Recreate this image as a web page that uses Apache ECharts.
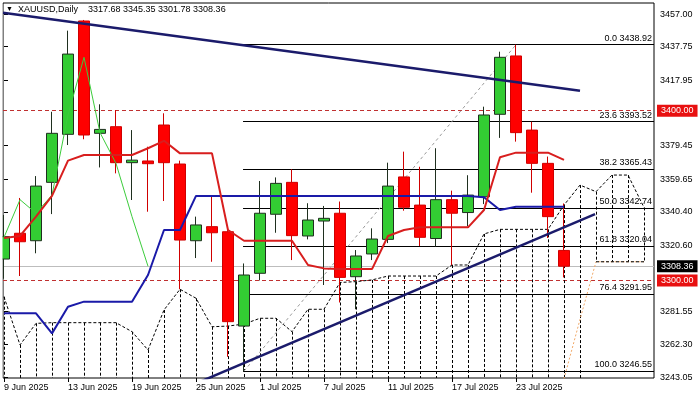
<!DOCTYPE html>
<html><head><meta charset="utf-8">
<script src="https://cdn.jsdelivr.net/npm/echarts@6/dist/echarts.min.js"></script>
<style>html,body{margin:0;padding:0;background:#fff}#c{width:700px;height:400px}</style>
</head><body><div id="c"></div>
<script>
// ---- data ----
const dates = ['2025-06-09','2025-06-10','2025-06-11','2025-06-12','2025-06-13','2025-06-16','2025-06-17','2025-06-18','2025-06-19','2025-06-20',
  '2025-06-23','2025-06-24','2025-06-25','2025-06-26','2025-06-27','2025-06-30','2025-07-01','2025-07-02','2025-07-03','2025-07-04',
  '2025-07-07','2025-07-08','2025-07-09','2025-07-10','2025-07-11','2025-07-14','2025-07-15','2025-07-16','2025-07-17','2025-07-18',
  '2025-07-21','2025-07-22','2025-07-23','2025-07-24','2025-07-25','2025-07-28'];
const opens  = [3312.6,3327.8,3323.4,3357.8,3386.1,3452.9,3386.7,3390.6,3369.4,3370.4,3391.6,3368.6,3323.4,3331.7,3328.7,3273.1,3304.2,3339.0,3357.8,3326.2,3335.0,3339.6,3302.2,3315.6,3324.2,3361.0,3344.4,3324.7,3347.6,3340.0,3349.3,3397.9,3432.3,3388.6,3369.0,3317.68];
const highs  = [3338.6,3348.6,3361.5,3399.4,3447.2,3453.5,3403.8,3400.4,3388.6,3378.8,3398.5,3370.6,3337.6,3350.3,3330.5,3310.0,3358.6,3360.7,3365.5,3345.5,3343.9,3346.5,3317.9,3330.7,3369.4,3375.9,3367.0,3377.9,3352.9,3362.0,3402.4,3434.8,3438.92,3393.5,3373.0,3345.35];
const lows   = [3301.0,3302.6,3316.0,3339.1,3379.8,3383.2,3366.6,3363.1,3347.4,3340.5,3346.8,3294.8,3313.2,3311.0,3255.0,3246.55,3300.0,3328.1,3312.0,3324.2,3297.3,3287.0,3283.0,3312.0,3322.0,3341.1,3320.3,3319.9,3309.0,3332.0,3345.0,3384.0,3381.8,3351.7,3325.0,3301.78];
const closes = [3325.8,3322.8,3355.6,3386.7,3433.4,3385.7,3389.0,3369.4,3370.9,3368.8,3369.4,3323.8,3332.7,3328.1,3275.7,3303.2,3339.6,3357.2,3326.4,3335.6,3336.6,3301.8,3314.4,3324.4,3355.6,3343.1,3325.4,3347.6,3339.6,3350.3,3397.5,3431.5,3387.1,3369.0,3337.6,3308.36];
const tenkan = [3325.0,3326.2,3337.6,3349.8,3370.6,3373.9,3373.9,3373.9,3373.9,3377.9,3382.3,3374.9,3374.9,3374.9,3329.7,3323.4,3323.4,3323.4,3323.4,3309.1,3307.1,3306.7,3306.7,3306.7,3326.2,3329.7,3331.3,3331.3,3331.3,3331.3,3341.5,3372.6,3375.3,3375.3,3375.3,3371.0];
const kijun  = [3280.6,3280.6,3280.6,3268.8,3284.5,3287.5,3287.5,3287.5,3287.5,3303.2,3329.7,3329.7,3349.8,3349.8,3349.8,3349.8,3349.8,3349.8,3349.8,3349.8,3349.8,3349.8,3349.8,3349.8,3349.8,3349.8,3349.8,3349.8,3349.8,3349.8,3349.0,3341.5,3343.4,3343.4,3343.4,3343.4];
const spanA  = [3290.4,3262.0,3274.7,3275.1,3275.1,3275.1,3275.1,3275.1,3269.8,3259.0,3282.6,3294.8,3289.5,3272.7,3273.1,3274.3,3277.7,3277.7,3269.8,3283.0,3283.0,3298.8,3299.3,3300.3,3302.6,3302.6,3302.6,3302.6,3309.1,3309.1,3327.4,3330.1,3330.1,3330.1,3330.1,3344.4,3356.2,3352.3,3362.1,3362.1,3343.0];
const spanB  = {35:3242.0, 36:3277.0, 37:3311.0, 38:3311.0, 39:3311.0, 40:3311.0};
const cloudFloor = {37:3311.0, 38:3311.0, 39:3311.0, 40:3311.0};
const chikouShift = 26;
const fibLevels = [0,23.6,38.2,50,61.8,76.4,100];
const fibPrices = [3438.92,3393.52,3365.43,3342.74,3320.04,3291.95,3246.55];
const fibAnchors = [[15,3246.55],[32,3438.92]];
const resistTrend = [[-0.06,3457.8],[36,3411.8]];
const supportTrend = [[10,3231.3],[36.94,3339.1]];
const redLevels = [3400,3300];
const lastPrice = 3308.36;
const priceTicks = [3243.05,3262.30,3281.55,3320.60,3340.40,3359.65,3379.45,3417.95,3437.75,3457.00];
const dateTickIdx = [0,4,8,12,16,20,24,28,32];

// ---- chart ----
const FONT = 'Liberation Sans, Arial, sans-serif';
const yMin = 3242.5, yMax = 3463.5, xMin = -0.0625, xMax = 40.625;
const MON = ['Jan','Feb','Mar','Apr','May','Jun','Jul','Aug','Sep','Oct','Nov','Dec'];
const fmtDate = v => { const d = dates[Math.round(v)]; if (!d) return ''; const p = d.split('-'); return (+p[2]) + ' ' + MON[+p[1]-1] + ' ' + p[0]; };
const pts = arr => arr.map((v,i)=>[i,v]);
const objPts = o => Object.keys(o).map(k=>[+k,o[k]]);
const last = opens.length - 1;

const chart = echarts.init(document.getElementById('c'));
const hatchData = spanA.map((v,i)=>[i, v, cloudFloor[i] != null ? cloudFloor[i] : yMin]);

const badge = (val, txt, bg, line) => ({
  yAxis: val,
  lineStyle: line,
  label: {show:true, position:'end', formatter: txt, color:'#fff', backgroundColor:bg, padding:[2,4,1,4], fontSize:9, fontFamily:FONT, distance:3}
});

chart.setOption({
  animation: false,
  grid: {left:3, right:46, top:3, bottom:22, show:true, borderColor:'#000', borderWidth:1, backgroundColor:'#fff'},
  xAxis: {
    type:'value', min:xMin, max:xMax,
    axisLine:{show:false}, splitLine:{show:false},
    axisTick:{show:true, customValues:dateTickIdx, length:4, lineStyle:{color:'#000'}},
    axisLabel:{customValues:dateTickIdx, formatter:fmtDate, align:'left', margin:5, fontSize:9, color:'#000', fontFamily:FONT}
  },
  yAxis: {
    type:'value', position:'right', min:yMin, max:yMax, scale:true,
    axisLine:{show:false}, splitLine:{show:false},
    axisTick:{show:true, customValues:priceTicks, length:4, lineStyle:{color:'#000'}},
    axisLabel:{customValues:priceTicks, formatter:v=>v.toFixed(2), margin:6, fontSize:9, color:'#000', fontFamily:FONT}
  },
  graphic: [
    {type:'rect', left:0, top:0, z:100, shape:{width:2.5, height:378}, style:{fill:'#fff'}},
    {type:'text', left:6, top:6, style:{text:'\u25BC', fontSize:7, fill:'#000', fontFamily:FONT}},
    {type:'text', left:18, top:5, style:{text:'XAUUSD,Daily', fontSize:9, fill:'#000', fontFamily:FONT}},
    {type:'text', left:88, top:5, style:{text:[opens[last],highs[last],lows[last],closes[last]].map(v=>v.toFixed(2)).join(' '), fontSize:9, fill:'#000', fontFamily:FONT}}
  ],
  series: [
    { type:'custom', z:1, silent:true, data:hatchData,
      renderItem:(params, api)=>{
        const a = api.coord([api.value(0), api.value(1)]);
        const b = api.coord([api.value(0), api.value(2)]);
        const x = Math.round(a[0]) + 0.5;
        return {type:'line', shape:{x1:x, y1:a[1], x2:x, y2:b[1]}, style:{stroke:'#000', lineWidth:1, lineDash:[3,2]}};
      }
    },
    { type:'line', z:1, data:pts(spanA), symbol:'none', silent:true,
      lineStyle:{color:'#000', width:1, type:[3,2]},
      markLine:{ z:1, silent:true, symbol:'none', animation:false,
        data:[
          badge(redLevels[0], redLevels[0].toFixed(2), '#e81010', {color:'#c03030', width:1, type:[4,3]}),
          badge(redLevels[1], redLevels[1].toFixed(2), '#e81010', {color:'#c03030', width:1, type:[4,3]}),
          badge(lastPrice, lastPrice.toFixed(2), '#000', {color:'#bdbdbd', width:1, type:'solid'})
        ]}
    },
    { type:'line', z:1, data:objPts(spanB), symbol:'none', silent:true, lineStyle:{color:'#f0a868', width:1, type:[2,2]} },
    { type:'line', z:1, data:objPts(cloudFloor), symbol:'none', silent:true, lineStyle:{color:'#000', width:1, type:[3,2]} },
    { type:'line', z:1, data:fibAnchors, symbol:'none', silent:true, lineStyle:{color:'#9a9a9a', width:1, type:[3,3]},
      markLine:{ z:1, silent:true, symbol:'none', animation:false,
        lineStyle:{color:'#000', width:1, type:'solid'},
        label:{show:true, position:'insideEndTop', formatter:p=>p.name, fontSize:9, color:'#000', fontFamily:FONT, distance:2},
        data: fibLevels.map((lv,k)=>[
          {name: lv.toFixed(1)+' '+fibPrices[k].toFixed(2), coord:[fibAnchors[0][0]-0.06, fibPrices[k]]},
          {coord:[xMax, fibPrices[k]]}
        ])
      }
    },
    { type:'candlestick', z:2, silent:true, barWidth:11,
      data: dates.map((d,i)=>[i, opens[i], closes[i], lows[i], highs[i]]),
      dimensions:['x','open','close','lowest','highest'],
      encode:{x:0, y:[1,2,3,4]},
      itemStyle:{color:'#33cc33', color0:'#ff0000', borderColor:'#1f2f1f', borderColor0:'#d00000', borderWidth:1}
    },
    { type:'line', z:3, data:closes.slice(chikouShift).map((v,i)=>[i,v]), symbol:'none', silent:true, lineStyle:{color:'#3ccc3c', width:1} },
    { type:'line', z:3, data:pts(kijun), symbol:'none', silent:true, lineStyle:{color:'#1a1aa8', width:2} },
    { type:'line', z:3, data:pts(tenkan), symbol:'none', silent:true, lineStyle:{color:'#d81e1e', width:2} },
    { type:'line', z:3, data:resistTrend, symbol:'none', silent:true, lineStyle:{color:'#1b1b6b', width:2.5} },
    { type:'line', z:3, data:supportTrend, symbol:'none', silent:true, lineStyle:{color:'#1b1b6b', width:2.5} }
  ]
});
</script></body></html>
